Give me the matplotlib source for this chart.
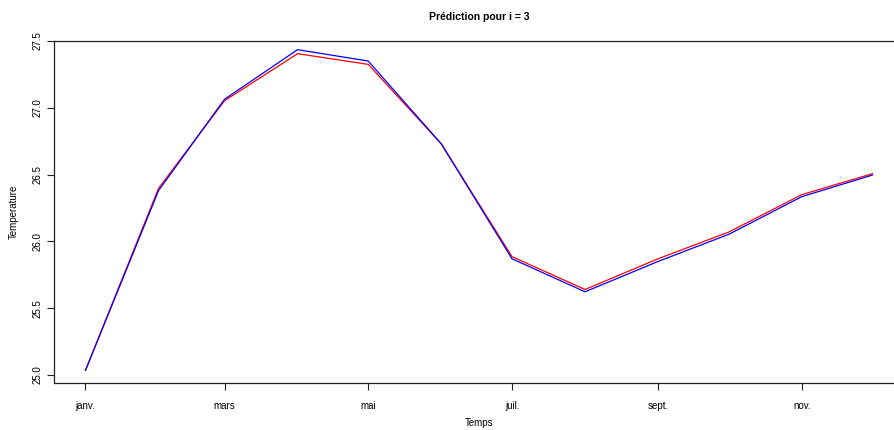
import numpy as np
import matplotlib
matplotlib.use('Agg')
import matplotlib.pyplot as plt
import matplotlib.dates as mdates

plt.rcParams['font.family'] = ['Liberation Sans', 'DejaVu Sans']

# monthly points, first day of each month
dates = np.arange('2023-01', '2024-01', dtype='datetime64[M]').astype('datetime64[D]')
pred_rouge = [25.035, 26.397, 27.053, 27.405, 27.325, 26.73,
              25.886, 25.64, 25.87, 26.07, 26.35, 26.507]
pred_bleu = [25.035, 26.38, 27.064, 27.435, 27.35, 26.73,
             25.87, 25.623, 25.85, 26.053, 26.335, 26.497]
tick_dates = dates[::2]
tick_lab = ['janv.', 'mars', 'mai', 'juil.', 'sept.', 'nov.']
y_ticks = [25.0, 25.5, 26.0, 26.5, 27.0, 27.5]

fig = plt.figure(figsize=(8.95, 4.3), dpi=100)
ax = fig.add_axes([54 / 895, 1 - 383 / 430, 850 / 895, 342 / 430])

ax.plot(dates, pred_rouge, color='red', lw=0.9)
ax.plot(dates, pred_bleu, color='blue', lw=0.9)

# R style 4% padding, ylim from the first series
r = max(pred_rouge) - min(pred_rouge)
ax.set_ylim(min(pred_rouge) - 0.04 * r, max(pred_rouge) + 0.04 * r)
x0 = mdates.date2num(dates[0])
x1 = mdates.date2num(dates[-1])
ax.set_xlim(x0 - 0.04 * (x1 - x0), x1 + 0.04 * (x1 - x0))

ax.set_xticks(mdates.date2num(tick_dates))
ax.set_xticklabels(tick_lab)
ax.set_yticks(y_ticks)
ax.set_yticklabels([f'{v:.1f}' for v in y_ticks], rotation=90, va='center')
ax.tick_params(axis='both', labelsize=7, length=5, width=0.8, color='#222222')
ax.tick_params(axis='x', pad=8)
ax.tick_params(axis='y', pad=3)

for s in ax.spines.values():
    s.set_linewidth(0.9)
    s.set_color('#222222')

# labels placed like R's margins (axes runs past the right edge)
fig.text(479 / 895, 1 - 423 / 430, 'Temps', fontsize=7, ha='center', va='center')
fig.text(14 / 895, 1 - 212 / 430, 'Temperature', fontsize=7, ha='center', va='center',
         rotation=90)
fig.text(479 / 895, 1 - 17 / 430, 'Prédiction pour i = 3', fontsize=7.5,
         fontweight='bold', ha='center', va='center')

fig.savefig('out.png', dpi=100)
